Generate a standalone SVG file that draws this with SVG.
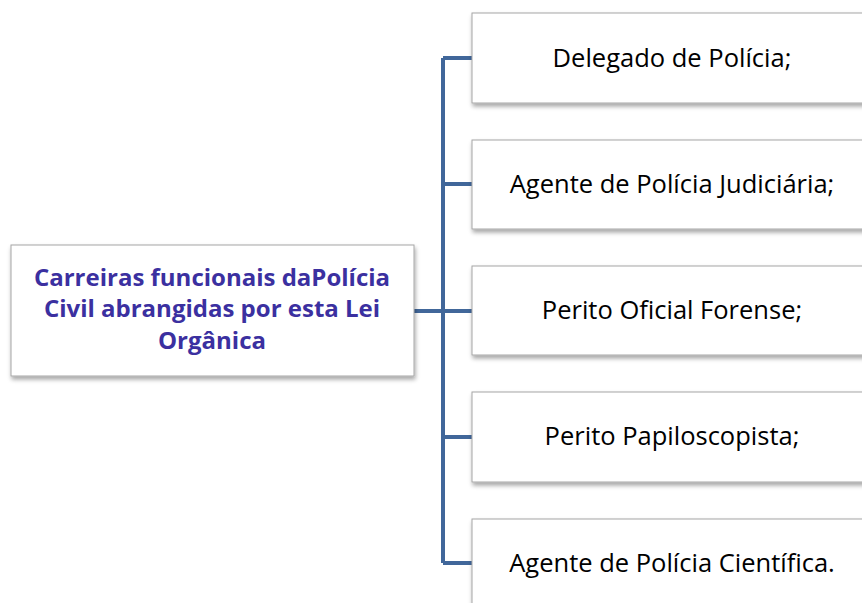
<svg xmlns="http://www.w3.org/2000/svg" width="862" height="603" viewBox="0 0 862 603">
<defs>
<filter id="sh" x="-10%" y="-10%" width="130%" height="130%">
<feDropShadow dx="1" dy="3" stdDeviation="2" flood-color="#000" flood-opacity="0.35"/>
</filter>
<style>
.box{fill:#fff;stroke:#a6a6a6;stroke-width:1;filter:url(#sh)}
.t{font-family:"Open Sans","Noto Sans",sans-serif;font-size:25.5px;fill:#000;text-anchor:middle}
.m{font-family:"Open Sans","Noto Sans",sans-serif;font-size:24px;font-weight:bold;fill:#3b30a0;text-anchor:middle}
.c{fill:none;stroke:#41679a;stroke-width:4}
</style>
</defs>
<rect width="862" height="603" fill="#fff"/>
<g id="connectors">
<path class="c" d="M414 311H443M443 58V563M443 58H472M443 184H472M443 311H472M443 437H472M443 563H472"/>
</g>
<g id="root">
<rect class="box" x="11" y="245" width="403" height="131"/>
<text class="m" x="212" y="286">Carreiras funcionais daPolícia</text>
<text class="m" x="212" y="317">Civil abrangidas por esta Lei</text>
<text class="m" x="212" y="349">Orgânica</text>
</g>
<g id="n1">
<rect class="box" x="472" y="13" width="400" height="90"/>
<text class="t" x="672" y="67">Delegado de Polícia;</text>
</g>
<g id="n2">
<rect class="box" x="472" y="140" width="400" height="89"/>
<text class="t" x="672" y="193">Agente de Polícia Judiciária;</text>
</g>
<g id="n3">
<rect class="box" x="472" y="266" width="400" height="89"/>
<text class="t" x="672" y="319">Perito Oficial Forense;</text>
</g>
<g id="n4">
<rect class="box" x="472" y="392" width="400" height="90"/>
<text class="t" x="672" y="445">Perito Papiloscopista;</text>
</g>
<g id="n5">
<rect class="box" x="472" y="519" width="400" height="100"/>
<text class="t" x="672" y="572">Agente de Polícia Científica.</text>
</g>
</svg>
